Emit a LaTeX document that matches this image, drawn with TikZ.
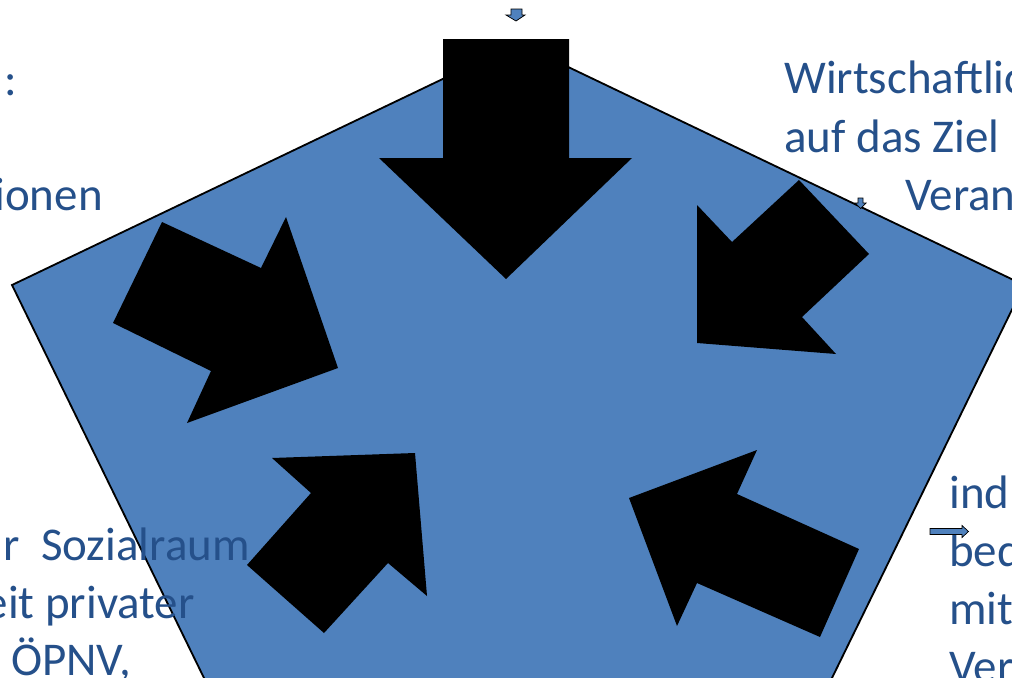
\documentclass[tikz,border=0pt]{standalone}
\usepackage{fontspec}
\setmainfont{Carlito}
\usepackage{xcolor}
\usetikzlibrary{positioning}
\definecolor{pentaFill}{HTML}{4F81BD}
\definecolor{labelBlue}{HTML}{25508A}

\begin{document}
\begin{tikzpicture}[
  x=0.025cm, y=-0.025cm,
  bigarrow/.style={fill=black},
  tinyarrow/.style={fill=pentaFill, draw=black, line width=0.5pt},
  lbl/.style={text=labelBlue, font=\fontsize{33.4}{41}\selectfont, inner sep=0pt},
]
  \useasboundingbox (0,0) rectangle (1012,677);
  \clip (0,0) rectangle (1012,677);

  % pentagon
  \draw[fill=pentaFill, line width=1.3pt] (518,43) -- (1024,285) -- (831,680) -- (205,680) -- (12,285) -- cycle;

  % text blocks
  \node[lbl, anchor=base east] (colon) at (17,95) {:};
  \node[lbl, anchor=base east] (ionen) at (103,210) {ionen};
  \node[lbl, anchor=base east] (sozial) at (250,560) {r\ \ Sozialraum};
  \node[lbl, anchor=base east] (privat) at (195,618) {eit privater};
  \node[lbl, anchor=base west] (oepnv) at (11,675) {ÖPNV,};
  \node[lbl, anchor=base west] (wirt) at (784,93) {Wirtschaftlic};
  \node[lbl, anchor=base west] (ziel) at (784,152) {auf das Ziel};
  \node[lbl, anchor=base west] (veran) at (905,210) {Veran};
  \node[lbl, anchor=base west] (ind) at (949,508) {ind};
  \node[lbl, anchor=base west] (bed) at (949,566) {bed};
  \node[lbl, anchor=base west] (mit) at (949,624) {mit};
  \node[lbl, anchor=base west] (ver) at (949,682) {Ver};

  % big block arrows
  \fill[bigarrow] (443,39) -- (569,39) -- (569,158) -- (632,158) -- (506,279) -- (379,158) -- (443,158) -- cycle;
  \fill[bigarrow] (162,222) -- (261,268) -- (286,217) -- (338,368) -- (187,423) -- (211,371) -- (113,323) -- cycle;
  \fill[bigarrow] (799,180) -- (869,254) -- (802,317) -- (836,354) -- (697,343) -- (697,205) -- (732,242) -- cycle;
  \fill[bigarrow] (247,565) -- (311,493) -- (272,458) -- (415,453) -- (427,596) -- (388,563) -- (324,633) -- cycle;
  \fill[bigarrow] (859,549) -- (737,494) -- (757,450) -- (629,498) -- (677,626) -- (697,583) -- (820,637) -- cycle;

  % tiny arrows
  \draw[tinyarrow] (511,9) -- (522,9) -- (522,15) -- (525,15) -- (516,21) -- (506,15) -- (511,15) -- cycle;
  \draw[tinyarrow] (858,198) -- (863,198) -- (863,203) -- (866,203) -- (860.5,208.5) -- (855,203) -- (858,203) -- cycle;
  \draw[tinyarrow] (930,528.5) -- (962,528.5) -- (962,525.5) -- (968.5,531.5) -- (962,537.5) -- (962,534.5) -- (930,534.5) -- cycle;
\end{tikzpicture}
\end{document}
